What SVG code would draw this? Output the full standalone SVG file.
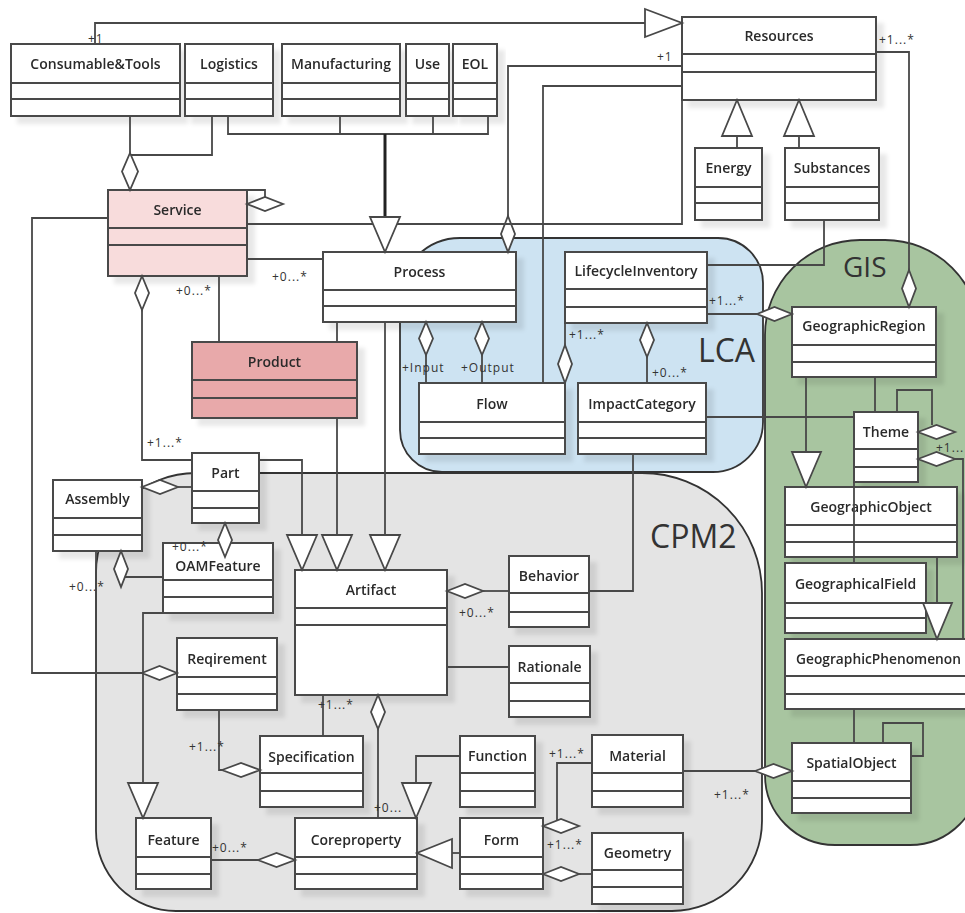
<svg xmlns="http://www.w3.org/2000/svg" width="965" height="913" viewBox="0 0 965 913">
<defs>
<style>
.box rect{fill:#fff;stroke:#484848;stroke-width:2}
.box line{stroke:#484848;stroke-width:2}
.box{filter:url(#sh)}
.pink rect{fill:#f8dcdc}
.red rect{fill:#e8a9aa}
.nm{font-family:'Open Sans','Noto Sans',sans-serif;font-size:14px;font-weight:600;fill:#2a2a2a;text-anchor:middle}
.nm.st{text-anchor:start}
.c{fill:none;stroke:#484848;stroke-width:1.8}
.thick{fill:none;stroke:#222;stroke-width:3}
.dia,.tri{fill:#fff;stroke:#484848;stroke-width:1.8;stroke-linejoin:miter}
.lb{font-family:'Open Sans','Noto Sans',sans-serif;font-size:12px;fill:#333;letter-spacing:1px}
.rg{stroke:#333;stroke-width:1.8}
.rl{font-family:'Open Sans','Noto Sans',sans-serif;fill:#333}
</style>
<filter id="sh" x="-10%" y="-10%" width="130%" height="130%">
<feDropShadow dx="7" dy="7" stdDeviation="2" flood-color="#000" flood-opacity="0.09"/>
</filter>
</defs>
<rect width="965" height="913" fill="#fff"/>

<g id="regions">
<path class="rg" fill="#e4e4e4" d="M96,573 A100,100 0 0 1 196,473 L642,473 A120,120 0 0 1 762,593 L762,821 A90,90 0 0 1 672,911 L176,911 A80,80 0 0 1 96,831 Z"/>
<path class="rg" fill="#cde3f2" d="M400,298 A60,60 0 0 1 460,238 L718,238 A45,45 0 0 1 763,283 L763,422 A50,50 0 0 1 713,472 L442,472 A42,42 0 0 1 400,430 Z"/>
<path class="rg" fill="#a8c5a0" d="M765,335 A95,95 0 0 1 860,240 L885,240 A95,95 0 0 1 980,335 L980,775 A70,70 0 0 1 910,845 L835,845 A70,70 0 0 1 765,775 Z"/>
<text class="rl" x="698" y="362" font-size="32">LCA</text>
<text class="rl" x="843" y="277" font-size="28">GIS</text>
<text class="rl" x="650" y="548" font-size="32">CPM2</text>
</g>

<g id="nodes">
<g id="consumable" class="box"><rect x="11" y="44" width="169" height="72"/><line x1="11" y1="83" x2="180" y2="83"/><line x1="11" y1="99" x2="180" y2="99"/><text class="nm" x="95.5" y="69">Consumable&amp;Tools</text></g>
<g id="logistics" class="box"><rect x="185" y="44" width="88" height="72"/><line x1="185" y1="83" x2="273" y2="83"/><line x1="185" y1="99" x2="273" y2="99"/><text class="nm" x="229" y="69">Logistics</text></g>
<g id="manufacturing" class="box"><rect x="282" y="44" width="118" height="72"/><line x1="282" y1="83" x2="400" y2="83"/><line x1="282" y1="99" x2="400" y2="99"/><text class="nm" x="341" y="69">Manufacturing</text></g>
<g id="use" class="box"><rect x="406" y="44" width="43" height="72"/><line x1="406" y1="83" x2="449" y2="83"/><line x1="406" y1="99" x2="449" y2="99"/><text class="nm" x="427.5" y="69">Use</text></g>
<g id="eol" class="box"><rect x="453" y="44" width="44" height="72"/><line x1="453" y1="83" x2="497" y2="83"/><line x1="453" y1="99" x2="497" y2="99"/><text class="nm" x="475" y="69">EOL</text></g>
<g id="resources" class="box"><rect x="682" y="17" width="194" height="83"/><line x1="682" y1="54" x2="876" y2="54"/><line x1="682" y1="72" x2="876" y2="72"/><text class="nm" x="779" y="41">Resources</text></g>
<g id="energy" class="box"><rect x="695" y="148" width="67" height="72"/><line x1="695" y1="187" x2="762" y2="187"/><line x1="695" y1="203" x2="762" y2="203"/><text class="nm" x="728.5" y="173">Energy</text></g>
<g id="substances" class="box"><rect x="785" y="148" width="94" height="72"/><line x1="785" y1="187" x2="879" y2="187"/><line x1="785" y1="203" x2="879" y2="203"/><text class="nm" x="832" y="173">Substances</text></g>
<g id="service" class="box pink"><rect x="108" y="190" width="139" height="86"/><line x1="108" y1="228" x2="247" y2="228"/><line x1="108" y1="245" x2="247" y2="245"/><text class="nm" x="177.5" y="215">Service</text></g>
<g id="process" class="box"><rect x="323" y="252" width="193" height="70"/><line x1="323" y1="290" x2="516" y2="290"/><line x1="323" y1="306" x2="516" y2="306"/><text class="nm" x="419.5" y="277">Process</text></g>
<g id="lifecycleinventory" class="box"><rect x="565" y="252" width="142" height="71"/><line x1="565" y1="289" x2="707" y2="289"/><line x1="565" y1="307" x2="707" y2="307"/><text class="nm" x="636" y="276">LifecycleInventory</text></g>
<g id="geographicregion" class="box"><rect x="792" y="307" width="144" height="70"/><line x1="792" y1="345" x2="936" y2="345"/><line x1="792" y1="362" x2="936" y2="362"/><text class="nm" x="864" y="331">GeographicRegion</text></g>
<g id="product" class="box red"><rect x="192" y="342" width="165" height="76"/><line x1="192" y1="380" x2="357" y2="380"/><line x1="192" y1="398" x2="357" y2="398"/><text class="nm" x="274.5" y="367">Product</text></g>
<g id="flow" class="box"><rect x="419" y="383" width="146" height="71"/><line x1="419" y1="422" x2="565" y2="422"/><line x1="419" y1="438" x2="565" y2="438"/><text class="nm" x="492" y="409">Flow</text></g>
<g id="impactcategory" class="box"><rect x="578" y="383" width="128" height="71"/><line x1="578" y1="422" x2="706" y2="422"/><line x1="578" y1="438" x2="706" y2="438"/><text class="nm" x="642" y="409">ImpactCategory</text></g>
<g id="theme" class="box"><rect x="854" y="412" width="64" height="70"/><line x1="854" y1="449" x2="918" y2="449"/><line x1="854" y1="467" x2="918" y2="467"/><text class="nm" x="886" y="437">Theme</text></g>
<g id="part" class="box"><rect x="192" y="453" width="67" height="70"/><line x1="192" y1="491" x2="259" y2="491"/><line x1="192" y1="508" x2="259" y2="508"/><text class="nm" x="225.5" y="478">Part</text></g>
<g id="assembly" class="box"><rect x="53" y="480" width="89" height="71"/><line x1="53" y1="518" x2="142" y2="518"/><line x1="53" y1="535" x2="142" y2="535"/><text class="nm" x="97.5" y="504">Assembly</text></g>
<g id="geographicobject" class="box"><rect x="785" y="487" width="172" height="70"/><line x1="785" y1="525" x2="957" y2="525"/><line x1="785" y1="542" x2="957" y2="542"/><text class="nm" x="871" y="512">GeographicObject</text></g>
<g id="oamfeature" class="box"><rect x="163" y="543" width="110" height="70"/><line x1="163" y1="580" x2="273" y2="580"/><line x1="163" y1="597" x2="273" y2="597"/><text class="nm" x="218" y="571">OAMFeature</text></g>
<g id="behavior" class="box"><rect x="509" y="556" width="80" height="71"/><line x1="509" y1="593" x2="589" y2="593"/><line x1="509" y1="612" x2="589" y2="612"/><text class="nm" x="549" y="581">Behavior</text></g>
<g id="artifact" class="box"><rect x="295" y="570" width="152" height="125"/><line x1="295" y1="608" x2="447" y2="608"/><line x1="295" y1="625" x2="447" y2="625"/><text class="nm" x="371" y="595">Artifact</text></g>
<g id="geographicalfield" class="box"><rect x="785" y="563" width="141" height="70"/><line x1="785" y1="603" x2="926" y2="603"/><line x1="785" y1="618" x2="926" y2="618"/><text class="nm" x="855.5" y="589">GeographicalField</text></g>
<g id="reqirement" class="box"><rect x="177" y="638" width="100" height="72"/><line x1="177" y1="677" x2="277" y2="677"/><line x1="177" y1="694" x2="277" y2="694"/><text class="nm" x="227" y="664">Reqirement</text></g>
<g id="geographicphenomenon" class="box"><rect x="785" y="639" width="200" height="70"/><line x1="785" y1="676" x2="985" y2="676"/><line x1="785" y1="694" x2="985" y2="694"/><text class="nm st" x="796" y="664" textLength="165" lengthAdjust="spacingAndGlyphs">GeographicPhenomenon</text></g>
<g id="rationale" class="box"><rect x="509" y="646" width="81" height="71"/><line x1="509" y1="683" x2="590" y2="683"/><line x1="509" y1="701" x2="590" y2="701"/><text class="nm" x="549.5" y="672">Rationale</text></g>
<g id="specification" class="box"><rect x="260" y="736" width="103" height="71"/><line x1="260" y1="773" x2="363" y2="773"/><line x1="260" y1="791" x2="363" y2="791"/><text class="nm" x="311.5" y="762">Specification</text></g>
<g id="function" class="box"><rect x="460" y="736" width="75" height="71"/><line x1="460" y1="773" x2="535" y2="773"/><line x1="460" y1="791" x2="535" y2="791"/><text class="nm" x="497.5" y="761">Function</text></g>
<g id="material" class="box"><rect x="592" y="735" width="91" height="72"/><line x1="592" y1="773" x2="683" y2="773"/><line x1="592" y1="791" x2="683" y2="791"/><text class="nm" x="637.5" y="761">Material</text></g>
<g id="spatialobject" class="box"><rect x="792" y="743" width="119" height="70"/><line x1="792" y1="781" x2="911" y2="781"/><line x1="792" y1="798" x2="911" y2="798"/><text class="nm" x="851.5" y="768">SpatialObject</text></g>
<g id="feature" class="box"><rect x="136" y="818" width="75" height="71"/><line x1="136" y1="857" x2="211" y2="857"/><line x1="136" y1="874" x2="211" y2="874"/><text class="nm" x="173.5" y="845">Feature</text></g>
<g id="coreproperty" class="box"><rect x="295" y="818" width="122" height="71"/><line x1="295" y1="857" x2="417" y2="857"/><line x1="295" y1="874" x2="417" y2="874"/><text class="nm" x="356" y="845">Coreproperty</text></g>
<g id="form" class="box"><rect x="460" y="818" width="83" height="71"/><line x1="460" y1="857" x2="543" y2="857"/><line x1="460" y1="874" x2="543" y2="874"/><text class="nm" x="501.5" y="845">Form</text></g>
<g id="geometry" class="box"><rect x="592" y="833" width="91" height="71"/><line x1="592" y1="870" x2="683" y2="870"/><line x1="592" y1="887" x2="683" y2="887"/><text class="nm" x="637.5" y="858">Geometry</text></g>
</g>

<g id="connectors">
<polyline class="c" points="95,44 95,23 645,23"/>
<polygon class="tri" points="645,9 682,23 645,37"/>
<text class="lb" x="88" y="43">+1</text>
<polyline class="c" points="508,216 508,66 682,66"/>
<polygon class="dia" points="508,216 515,234 508,252 501,234"/>
<text class="lb" x="657" y="61">+1</text>
<polyline class="c" points="543,383 543,86 682,86"/>
<polyline class="c" points="247,224 682,224 682,100"/>
<line class="c" x1="737" y1="148" x2="737" y2="136"/>
<polygon class="tri" points="722,136 752,136 737,100"/>
<line class="c" x1="799" y1="148" x2="799" y2="136"/>
<polygon class="tri" points="784,136 814,136 799,100"/>
<line class="c" x1="130" y1="116" x2="130" y2="153"/>
<polyline class="c" points="212,116 212,155 130,155"/>
<polygon class="dia" points="130,153 138,171.5 130,190 122,171.5"/>
<polyline class="c" points="228,116 228,134 488,134 488,116"/>
<line class="c" x1="340" y1="116" x2="340" y2="134"/>
<line class="c" x1="433" y1="116" x2="433" y2="134"/>
<line class="thick" x1="385" y1="134" x2="385" y2="217"/>
<polygon class="tri" points="370,217 400,217 385,252"/>
<polyline class="c" points="247,190 265,190 265,197"/>
<polygon class="dia" points="247,204 265,197 283,204 265,211"/>
<line class="c" x1="247" y1="259" x2="323" y2="259"/>
<text class="lb" x="272" y="281">+0...*</text>
<line class="c" x1="219" y1="276" x2="219" y2="342"/>
<text class="lb" x="176" y="295">+0...*</text>
<polyline class="c" points="142,310 142,460 192,460"/>
<polygon class="dia" points="142,276 149,293 142,310 135,293"/>
<text class="lb" x="147" y="447">+1...*</text>
<polyline class="c" points="108,218 32,218 32,673 142,673"/>
<polygon class="dia" points="142,673 159.5,666 177,673 159.5,680"/>
<polyline class="c" points="259,460 302,460 302,535"/>
<polygon class="tri" points="287,535 317,535 302,570"/>
<line class="c" x1="337" y1="322" x2="337" y2="342"/>
<line class="c" x1="337" y1="418" x2="337" y2="535"/>
<polygon class="tri" points="322,535 352,535 337,570"/>
<line class="c" x1="385" y1="322" x2="385" y2="535"/>
<polygon class="tri" points="370,535 400,535 385,570"/>
<line class="c" x1="178" y1="487" x2="192" y2="487"/>
<polygon class="dia" points="142,487 160,480 178,487 160,494"/>
<polygon class="dia" points="225,523 232,540 225,557 218,540"/>
<text class="lb" x="172" y="551">+0...*</text>
<line class="c" x1="121" y1="577" x2="163" y2="577"/>
<polygon class="dia" points="121,551 128,569 121,587 114,569"/>
<text class="lb" x="69" y="591">+0...*</text>
<line class="c" x1="96" y1="551" x2="96" y2="600"/>
<polyline class="c" points="163,613 143,613 143,783"/>
<polygon class="tri" points="128,783 158,783 143,818"/>
<polyline class="c" points="219,710 219,770 222,770"/>
<polygon class="dia" points="222,770 241,763 260,770 241,777"/>
<text class="lb" x="189" y="751">+1...*</text>
<line class="c" x1="483" y1="591" x2="509" y2="591"/>
<polygon class="dia" points="447,591 465,584 483,591 465,598"/>
<text class="lb" x="459" y="617">+0...*</text>
<polyline class="c" points="589,591 633,591 633,454"/>
<line class="c" x1="447" y1="667" x2="509" y2="667"/>
<line class="c" x1="323" y1="695" x2="323" y2="736"/>
<text class="lb" x="318" y="709">+1...*</text>
<line class="c" x1="378" y1="729" x2="378" y2="818"/>
<polygon class="dia" points="378,695 385,712 378,729 371,712"/>
<text class="lb" x="374" y="812">+0...</text>
<line class="c" x1="211" y1="860" x2="258" y2="860"/>
<polygon class="dia" points="258,860 276.5,853 295,860 276.5,867"/>
<text class="lb" x="212" y="852">+0...*</text>
<polyline class="c" points="460,756 416,756 416,783"/>
<polygon class="tri" points="402,783 431,783 416,818"/>
<line class="c" x1="460" y1="853" x2="452" y2="853"/>
<polygon class="tri" points="452,839 452,868 417,853"/>
<polyline class="c" points="557,826 557,763 592,763"/>
<polygon class="dia" points="543,826 561,819 579,826 561,833"/>
<text class="lb" x="549" y="758">+1...*</text>
<line class="c" x1="579" y1="874" x2="592" y2="874"/>
<polygon class="dia" points="543,874 561,867 579,874 561,881"/>
<text class="lb" x="547" y="849">+1...*</text>
<line class="c" x1="683" y1="771" x2="755" y2="771"/>
<polygon class="dia" points="755,771 773.5,764 792,771 773.5,778"/>
<text class="lb" x="714" y="799">+1...*</text>
<polyline class="c" points="883,743 883,723 923,723 923,756 911,756"/>
<line class="c" x1="854" y1="709" x2="854" y2="743"/>
<line class="c" x1="937" y1="557" x2="937" y2="603"/>
<polygon class="tri" points="923,603 952,603 937,639"/>
<line class="c" x1="706" y1="417" x2="854" y2="417"/>
<line class="c" x1="854" y1="482" x2="854" y2="563"/>
<line class="c" x1="806" y1="377" x2="806" y2="452"/>
<polygon class="tri" points="792,452 821,452 806,487"/>
<line class="c" x1="875" y1="377" x2="875" y2="412"/>
<polyline class="c" points="897,412 897,390 932,390 932,425"/>
<polygon class="dia" points="918,432 936.5,425 955,432 936.5,439"/>
<polyline class="c" points="955,459 963,459 963,639"/>
<polygon class="dia" points="918,459 936.5,452 955,459 936.5,466"/>
<text class="lb" x="936" y="452">+1...</text>
<line class="c" x1="707" y1="314" x2="757" y2="314"/>
<polygon class="dia" points="757,314 774.5,307 792,314 774.5,321"/>
<text class="lb" x="709" y="305">+1...*</text>
<polyline class="c" points="876,52 909,52 909,270"/>
<polygon class="dia" points="909,270 916,288.5 909,307 902,288.5"/>
<text class="lb" x="879" y="44">+1...*</text>
<polyline class="c" points="824,220 824,265 707,265"/>
<line class="c" x1="565" y1="323" x2="565" y2="345"/>
<polygon class="dia" points="565,345 572,364 565,383 558,364"/>
<text class="lb" x="569" y="339">+1...*</text>
<line class="c" x1="647" y1="357" x2="647" y2="383"/>
<polygon class="dia" points="647,323 654,340 647,357 640,340"/>
<text class="lb" x="652" y="377">+0...*</text>
<line class="c" x1="426" y1="355" x2="426" y2="383"/>
<polygon class="dia" points="426,322 433,338.5 426,355 419,338.5"/>
<line class="c" x1="482" y1="355" x2="482" y2="383"/>
<polygon class="dia" points="482,322 489,338.5 482,355 475,338.5"/>
<text class="lb" x="402" y="372" letter-spacing="0">+Input</text>
<text class="lb" x="461" y="372" letter-spacing="0">+Output</text>
</g>
</svg>
